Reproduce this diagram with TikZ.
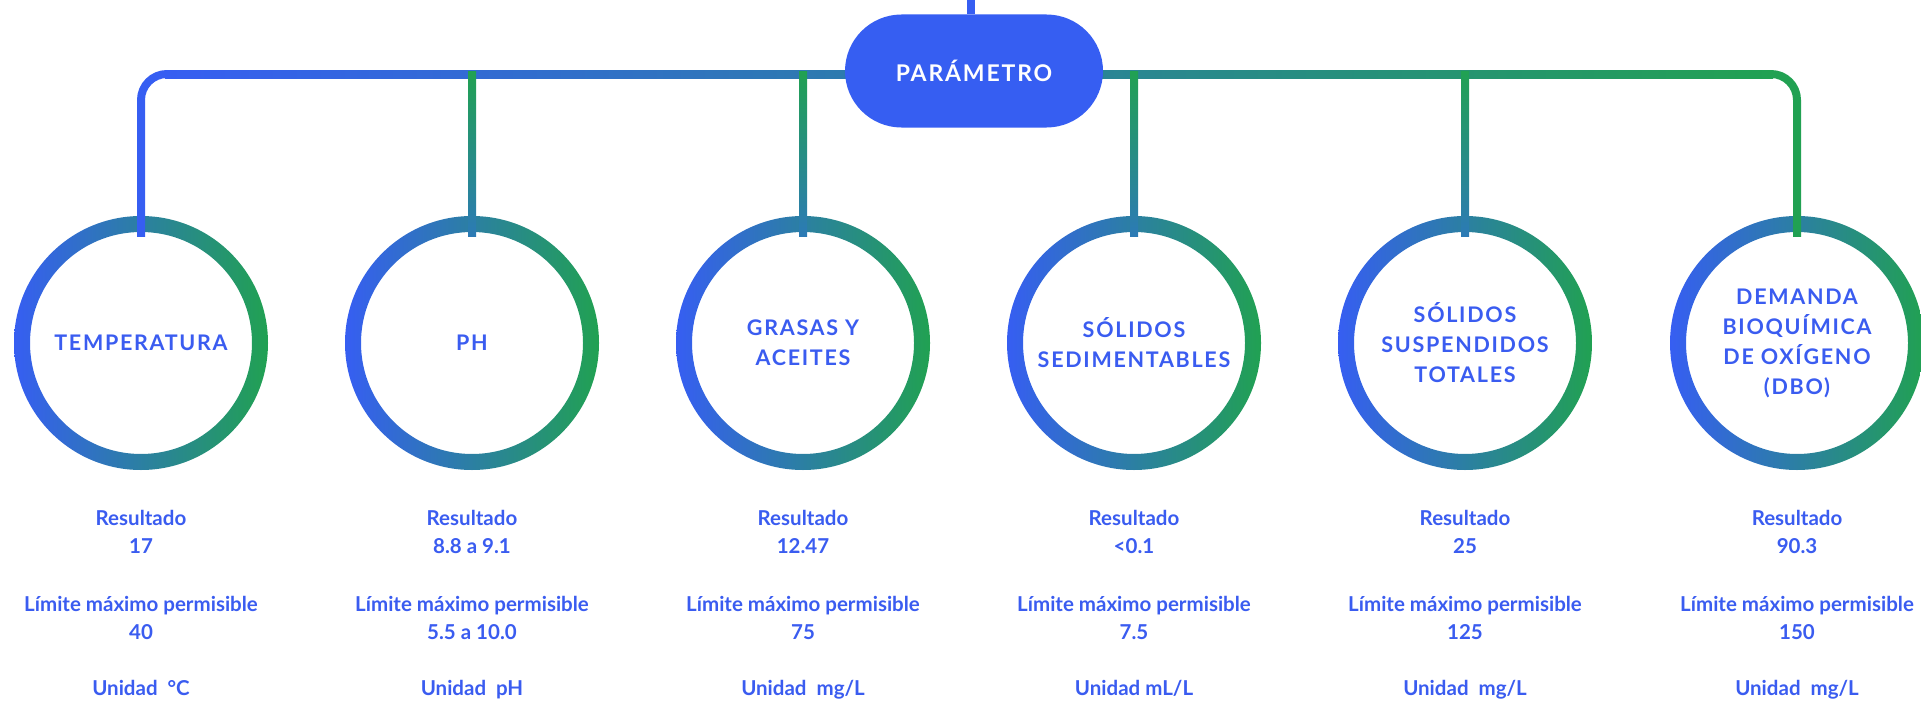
\documentclass[tikz,border=0pt]{standalone}
\usepackage{fontspec}
\setmainfont{Lato}
\newfontfamily\titulo[LetterSpace=8]{Lato}
\usepackage{tikz}
\usetikzlibrary{positioning,calc,shapes.misc}

\definecolor{azul}{HTML}{365EF2}
\definecolor{verde}{HTML}{21A152}
\definecolor{azulverde}{HTML}{2C7AB6}
\definecolor{texto}{HTML}{3A5CF0}

\tikzset{
    circulo/.style={circle, minimum size=254pt, inner sep=0pt, text=texto, align=center,
        font=\titulo\bfseries\fontsize{21.5}{30}\selectfont},
    dato/.style={anchor=north, inner sep=0pt, text=texto, align=center,
        font=\bfseries\fontsize{20.5}{28}\selectfont},
    enlace/.style={line width=8pt},
    anillo/.style={left color=azul, right color=verde, even odd rule}
}

\begin{document}
\begin{tikzpicture}[x=1pt, y=-1pt]
    \useasboundingbox (0,0) rectangle (1921,701);

    % bus
    \coordinate (b1) at (141,74);
    \coordinate (b6) at (1797,74);
    \shade[left color=azul, right color=verde] ($(b1)+(24,-4)$) rectangle ($(b6)+(-24,4)$);

    % parametro
    \coordinate (tope) at (971,0);
    \node[rounded rectangle, fill=azul, minimum width=258pt, minimum height=113pt, inner sep=0pt,
        text=white, font=\titulo\bfseries\fontsize{23}{26}\selectfont] (param) at (974,71) {PARÁMETRO};
    \draw[enlace, azul] (tope) -- (tope |- param.north);

    % circulos
    \node[circulo] (c1) at (141,343) {TEMPERATURA};
    \node[circulo] (c2) at (472,343) {PH};
    \node[circulo] (c3) at (803,343) {GRASAS Y\\ACEITES};
    \node[circulo] (c4) at (1134,343) {SÓLIDOS\\SEDIMENTABLES};
    \node[circulo] (c5) at (1465,343) {SÓLIDOS\\SUSPENDIDOS\\TOTALES};
    \node[circulo] (c6) at (1797,343) {DEMANDA\\BIOQUÍMICA\\DE OXÍGENO\\(DBO)};
    \shade[anillo] (c1) circle (127pt) (c1) circle (111pt);
    \shade[anillo] (c2) circle (127pt) (c2) circle (111pt);
    \shade[anillo] (c3) circle (127pt) (c3) circle (111pt);
    \shade[anillo] (c4) circle (127pt) (c4) circle (111pt);
    \shade[anillo] (c5) circle (127pt) (c5) circle (111pt);
    \shade[anillo] (c6) circle (127pt) (c6) circle (111pt);

    % enlaces
    \draw[enlace, azul, rounded corners=26pt] ($(c1.north)+(0,21)$) |- ($(b1)+(30,0)$);
    \draw[enlace, verde, rounded corners=26pt] ($(c6.north)+(0,21)$) |- ($(b6)+(-30,0)$);
    \shade[top color=verde, bottom color=azulverde] ($(c2 |- b1)+(-4,-3)$) rectangle ($(c2.north)+(4,21)$);
    \shade[top color=verde, bottom color=azulverde] ($(c3 |- b1)+(-4,-3)$) rectangle ($(c3.north)+(4,21)$);
    \shade[top color=verde, bottom color=azulverde] ($(c4 |- b1)+(-4,-3)$) rectangle ($(c4.north)+(4,21)$);
    \shade[top color=verde, bottom color=azulverde] ($(c5 |- b1)+(-4,-3)$) rectangle ($(c5.north)+(4,21)$);

    % datos
    \node[dato] (d1) at ($(c1)+(0,167)$) {Resultado\\17\\[30pt]Límite máximo permisible\\40\\[28pt]Unidad\ \ °C};
    \node[dato] (d2) at ($(c2)+(0,167)$) {Resultado\\8.8 a 9.1\\[30pt]Límite máximo permisible\\5.5 a 10.0\\[28pt]Unidad\ \ pH};
    \node[dato] (d3) at ($(c3)+(0,167)$) {Resultado\\12.47\\[30pt]Límite máximo permisible\\75\\[28pt]Unidad\ \ mg/L};
    \node[dato] (d4) at ($(c4)+(0,167)$) {Resultado\\<0.1\\[30pt]Límite máximo permisible\\7.5\\[28pt]Unidad mL/L};
    \node[dato] (d5) at ($(c5)+(0,167)$) {Resultado\\25\\[30pt]Límite máximo permisible\\125\\[28pt]Unidad\ \ mg/L};
    \node[dato] (d6) at ($(c6)+(0,167)$) {Resultado\\90.3\\[30pt]Límite máximo permisible\\150\\[28pt]Unidad\ \ mg/L};
\end{tikzpicture}
\end{document}
